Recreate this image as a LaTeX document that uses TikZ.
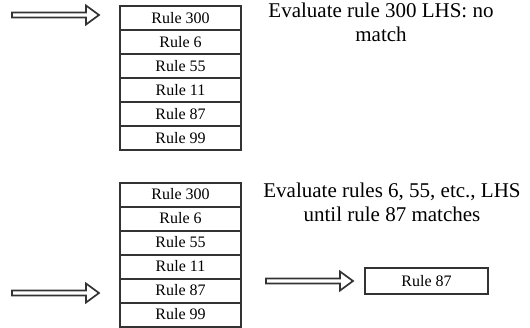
\documentclass[tikz,border=0pt]{standalone}
\usepackage{fontspec}
\setmainfont{Liberation Serif}
\usetikzlibrary{positioning,calc}
\tikzset{
    rulebox/.style={draw=black!80, line width=2pt, minimum width=121pt, minimum height=24pt,
      inner sep=0pt, outer sep=0pt, font=\fontsize{16}{18}\selectfont},
    note/.style={align=center, font=\fontsize{21}{24}\selectfont},
    hollow/.style={draw=black!80, line width=1.7pt, line join=miter,
      to path={let \p1=(\tikztostart), \p2=(\tikztotarget) in
        (\x1,\y1+2.5pt) -- (\x2-13pt,\y1+2.5pt) -- (\x2-13pt,\y1+9.5pt) -- (\x2,\y1)
        -- (\x2-13pt,\y1-9.5pt) -- (\x2-13pt,\y1-2.5pt) -- (\x1,\y1-2.5pt) -- cycle}},
  }
\begin{document}
\begin{tikzpicture}[x=1pt,y=-1pt]
				  \useasboundingbox (0,0) rectangle (530,327);
				  %PREMIERE PILE
				  \node[rulebox] (a1) at (180.5,18) {Rule 300};
				  \node[rulebox,below=0pt of a1] (a2) {Rule 6};
				  \node[rulebox,below=0pt of a2] (a3) {Rule 55};
				  \node[rulebox,below=0pt of a3] (a4) {Rule 11};
				  \node[rulebox,below=0pt of a4] (a5) {Rule 87};
				  \node[rulebox,below=0pt of a5] (a6) {Rule 99};
				  \node[note] (ta) at (381,22) {Evaluate rule 300 LHS: no\\match};
				  %fleche
				  \coordinate (sa) at (12,15);
				  \coordinate (pa) at ([xshift=-21pt,yshift=3pt]a1.west);
				  \draw[hollow] (sa) to (pa);
				  %DEUXIEME PILE
				  \node[rulebox] (b1) at (180.5,194.5) {Rule 300};
				  \node[rulebox,below=0pt of b1] (b2) {Rule 6};
				  \node[rulebox,below=0pt of b2] (b3) {Rule 55};
				  \node[rulebox,below=0pt of b3] (b4) {Rule 11};
				  \node[rulebox,below=0pt of b4] (b5) {Rule 87};
				  \node[rulebox,below=0pt of b5] (b6) {Rule 99};
				  \node[note] (tb) at (392,202) {Evaluate rules 6, 55, etc., LHS\\until rule 87 matches};
				  %fleche
				  \coordinate (sb) at (12,293);
				  \coordinate (pb) at ([xshift=-21pt,yshift=-2.5pt]b5.west);
				  \draw[hollow] (sb) to (pb);
				  %RESULTAT
				  \node[rulebox,minimum width=123pt,minimum height=26pt] (c) at (426.5,281) {Rule 87};
				  \coordinate (sc) at (266,281);
				  \coordinate (pc) at ([xshift=-12pt]c.west);
				  \draw[hollow] (sc) to (pc);
				  \end{tikzpicture}
\end{document}
